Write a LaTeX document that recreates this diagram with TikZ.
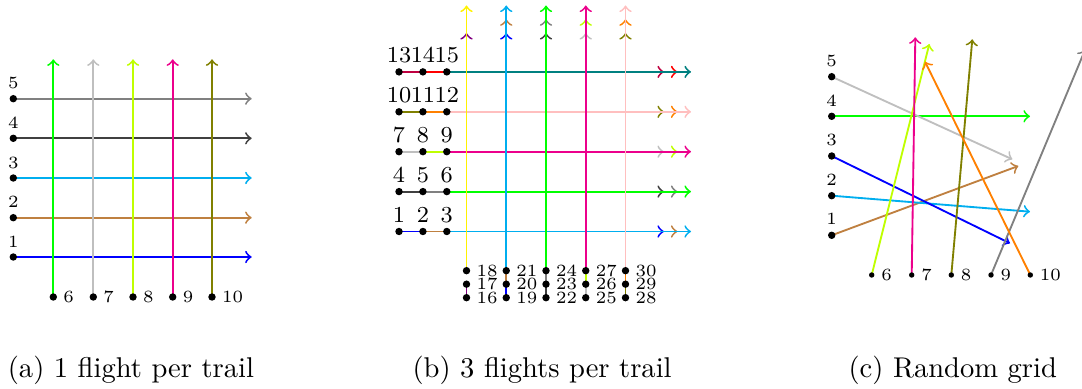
\documentclass[tikz,border=0pt]{standalone}
\definecolor{c1}{RGB}{0,0,255}
\definecolor{c2}{RGB}{191,128,64}
\definecolor{c3}{RGB}{0,174,239}
\definecolor{c4}{RGB}{64,64,64}
\definecolor{c5}{RGB}{128,128,128}
\definecolor{c6}{RGB}{0,255,0}
\definecolor{c7}{RGB}{191,191,191}
\definecolor{c8}{RGB}{191,255,0}
\definecolor{c9}{RGB}{236,0,140}
\definecolor{c10}{RGB}{128,128,0}
\definecolor{c11}{RGB}{255,128,0}
\definecolor{c12}{RGB}{255,191,191}
\definecolor{c13}{RGB}{191,0,64}
\definecolor{c14}{RGB}{255,0,0}
\definecolor{c15}{RGB}{0,128,128}
\definecolor{c16}{RGB}{128,0,128}
\definecolor{c17}{RGB}{255,255,255}
\definecolor{c18}{RGB}{255,242,0}
\pgfdeclarelayer{bg}
\pgfsetlayers{bg,main}
\begin{document}
\begin{tikzpicture}[x=0.35pt,y=-0.35pt,
  dot/.style={circle,fill=black,inner sep=0pt,minimum size=2.6pt},
  sdot/.style={dot,minimum size=1.9pt},
  flight/.style={->,line width=0.65pt},
  lab/.style={inner sep=0pt,font=\fontsize{6}{7}\selectfont},
  blab/.style={inner sep=0pt,font=\fontsize{8}{9}\selectfont},
  captext/.style={inner sep=0pt,anchor=base west,font=\fontsize{10}{12}\selectfont}]
\useasboundingbox (0,0) rectangle (1082,389);

% ---------- (a) 1 flight per trail ----------
\foreach \i/\y in {1/257,2/217.7,3/178,4/138.3,5/98.7}{
  \node[dot] (a\i) at (13.3,\y) {};
  \node[lab] (la\i) at (13.3,\y-15.5) {\i};
  \coordinate (ae\i) at (251.7,\y);
  \begin{pgfonlayer}{bg}\draw[flight,c\i] (a\i.center) -- (ae\i);\end{pgfonlayer}
}
\foreach \i/\x in {6/53.3,7/93.3,8/133,9/172.7,10/212}{
  \node[dot] (a\i) at (\x,297) {};
  \node[lab,anchor=west] (la\i) at (\x+9.5,297) {\i};
  \coordinate (ae\i) at (\x,59.3);
  \begin{pgfonlayer}{bg}\draw[flight,c\i] (a\i.center) -- (ae\i);\end{pgfonlayer}
}

% ---------- (b) 3 flights per trail ----------
\foreach \r in {0,...,4}{
  \foreach \j in {1,2,3}{
    \pgfmathtruncatemacro\n{3*\r+\j}
    \pgfmathsetmacro\yy{231.5-39.9*\r}
    \pgfmathsetmacro\xx{399+23.9*(\j-1)}
    \pgfmathsetmacro\xe{664+13.5*(\j-1)}
    \node[dot] (b\n) at (\xx,\yy) {};
    \node[blab] (lb\n) at (\xx,\yy-16.7) {\n};
    \coordinate (be\n) at (\xe,\yy);
    \begin{pgfonlayer}{bg}\draw[flight,c\n] (b\n.center) -- (be\n);\end{pgfonlayer}
  }
}
\foreach \c in {0,...,4}{
  \foreach \j in {1,2,3}{
    \pgfmathtruncatemacro\n{15+3*\c+\j}
    \pgfmathtruncatemacro\ci{mod(\n-1,18)+1}
    \pgfmathsetmacro\xx{466.5+39.75*\c}
    \pgfmathsetmacro\yy{297.7-13.5*(\j-1)}
    \pgfmathsetmacro\ye{33-13.75*(\j-1)}
    \node[dot] (b\n) at (\xx,\yy) {};
    \node[lab,anchor=west] (lb\n) at (\xx+9.5,\yy) {\n};
    \coordinate (be\n) at (\xx,\ye);
    \begin{pgfonlayer}{bg}\draw[flight,c\ci] (b\n.center) -- (be\n);\end{pgfonlayer}
  }
}

% ---------- (c) Random grid ----------
\foreach \i/\y in {1/235.3,2/195.7,3/156,4/116.3,5/76.7}{
  \node[dot] (c\i) at (831.7,\y) {};
  \node[lab] (lc\i) at (831.7,\y-16) {\i};
}
\foreach \i/\x in {6/871.7,7/911.7,8/951.3,9/991,10/1030.3}{
  \node[sdot] (c\i) at (\x,275) {};
  \node[lab,anchor=west] (lc\i) at (\x+9,275) {\i};
}
\coordinate (ce1) at (1018.3,166);
\coordinate (ce2) at (1030,211.7);
\coordinate (ce3) at (1010,243.3);
\coordinate (ce4) at (1030,116.3);
\coordinate (ce5) at (1012.3,159.3);
\coordinate (ce6) at (929.3,44);
\coordinate (ce7) at (915.3,37.3);
\coordinate (ce8) at (972.3,39.3);
\coordinate (ce9) at (1085,50);
\coordinate (ce10) at (925,61.7);
\begin{pgfonlayer}{bg}
\begin{scope}
  \clip (0,0) rectangle (1082,389);
  \foreach \i/\col in {1/c2,2/c3,3/c1,4/c6,5/c7,6/c8,7/c9,8/c10,9/c5,10/c11}{
    \draw[flight,\col] (c\i.center) -- (ce\i);}
\end{scope}
\end{pgfonlayer}

% ---------- captions ----------
\node[captext] (capa) at (7.3,377.5) {(a) 1 flight per trail};
\node[captext] (capb) at (412,377.5) {(b) 3 flights per trail};
\node[captext] (capc) at (848,377.5) {(c) Random grid};
\end{tikzpicture}
\end{document}
